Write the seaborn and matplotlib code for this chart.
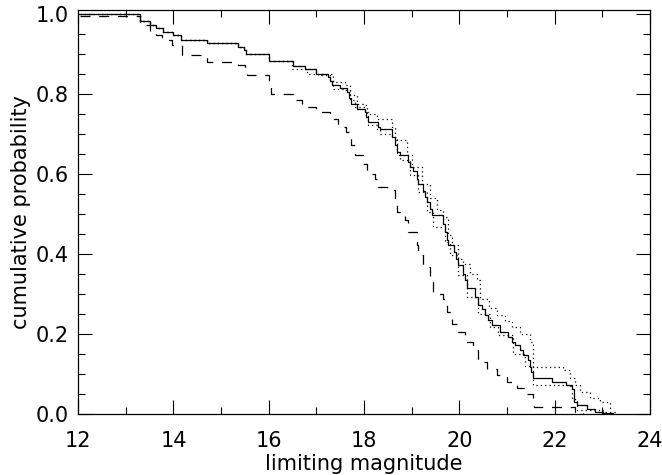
import matplotlib
matplotlib.use("Agg")
import matplotlib.pyplot as plt
import seaborn as sns
from matplotlib.ticker import MultipleLocator

# step curves: x position of each step, value after the step
solid_x = [12.05, 13.3, 13.5, 13.63, 13.78, 14.0, 14.16, 14.7, 15.36, 15.48, 15.52,
           16.0, 16.5, 16.76, 17.0, 17.24, 17.28, 17.33, 17.5, 17.64, 17.68, 17.72,
           17.85, 18.02, 18.05, 18.08, 18.3, 18.33, 18.58, 18.65, 18.69, 18.75, 18.92,
           18.96, 19.03, 19.1, 19.13, 19.24, 19.28, 19.31, 19.38, 19.42, 19.66, 19.7,
           19.73, 19.76, 19.89, 19.93, 19.96, 20.08, 20.12, 20.15, 20.33, 20.4, 20.47,
           20.54, 20.6, 20.68, 20.85, 21.02, 21.1, 21.17, 21.27, 21.34, 21.44, 21.48,
           21.51, 21.54, 21.94, 22.24, 22.36, 22.4, 22.47, 22.68, 22.85, 23.02, 23.23]
solid_y = [1.0, 0.983, 0.972, 0.964, 0.956, 0.947, 0.935, 0.927, 0.918, 0.909, 0.899,
           0.882, 0.87, 0.862, 0.851, 0.842, 0.832, 0.823, 0.815, 0.805, 0.79, 0.776,
           0.763, 0.755, 0.742, 0.73, 0.717, 0.713, 0.692, 0.672, 0.655, 0.647, 0.63,
           0.617, 0.607, 0.588, 0.576, 0.557, 0.542, 0.53, 0.513, 0.497, 0.476, 0.455,
           0.435, 0.422, 0.405, 0.388, 0.372, 0.351, 0.335, 0.315, 0.292, 0.272, 0.263,
           0.247, 0.235, 0.222, 0.205, 0.192, 0.18, 0.172, 0.16, 0.147, 0.135, 0.117,
           0.105, 0.09, 0.08, 0.072, 0.062, 0.03, 0.022, 0.013, 0.005, 0.002, 0.0]

upper_x = [12.05, 13.3, 13.5, 13.63, 13.78, 14.0, 14.16, 14.7, 15.36, 15.48, 15.52,
           16.0, 16.5, 16.76, 17.0, 17.35, 17.6, 17.71, 17.85, 17.98, 18.06, 18.27,
           18.59, 18.65, 18.9, 19.01, 19.22, 19.38, 19.53, 19.66, 19.76, 19.85, 19.97,
           20.08, 20.22, 20.37, 20.43, 20.62, 20.79, 20.96, 21.1, 21.27, 21.48, 21.54,
           22.17, 22.32, 22.43, 22.53, 22.74, 22.95, 23.16, 23.27]
upper_y = [1.0, 0.983, 0.972, 0.964, 0.956, 0.947, 0.935, 0.927, 0.918, 0.909, 0.899,
           0.882, 0.87, 0.862, 0.851, 0.83, 0.822, 0.797, 0.775, 0.772, 0.75, 0.738,
           0.717, 0.685, 0.647, 0.617, 0.575, 0.54, 0.51, 0.492, 0.447, 0.422, 0.388,
           0.375, 0.35, 0.335, 0.288, 0.265, 0.247, 0.232, 0.217, 0.2, 0.18, 0.118,
           0.11, 0.09, 0.072, 0.055, 0.04, 0.03, 0.005, 0.0]

lower_x = [12.05, 13.3, 13.5, 13.63, 13.78, 14.0, 14.16, 14.7, 15.36, 15.48, 15.52,
           16.0, 16.49, 16.8, 17.03, 17.29, 17.35, 17.56, 17.71, 17.81, 18.02, 18.08,
           18.27, 18.34, 18.59, 18.69, 18.75, 18.96, 19.13, 19.32, 19.45, 19.7, 19.8,
           19.97, 20.16, 20.39, 20.64, 20.81, 21.13, 21.38, 21.54, 22.32, 22.36, 22.47,
           23.01, 23.08]
lower_y = [1.0, 0.983, 0.972, 0.964, 0.956, 0.947, 0.935, 0.927, 0.918, 0.909, 0.899,
           0.882, 0.862, 0.85, 0.847, 0.835, 0.812, 0.81, 0.785, 0.767, 0.755, 0.722,
           0.71, 0.7, 0.692, 0.647, 0.635, 0.597, 0.555, 0.505, 0.467, 0.43, 0.397,
           0.347, 0.292, 0.25, 0.217, 0.197, 0.15, 0.12, 0.072, 0.07, 0.037, 0.01,
           0.005, 0.0]

dashed_x = [12.05, 13.3, 13.5, 13.63, 13.75, 13.97, 14.18, 14.7, 15.36, 15.5, 15.55,
            16.0, 16.05, 16.5, 16.7, 17.0, 17.28, 17.45, 17.63, 17.73, 17.8, 17.98,
            18.06, 18.23, 18.3, 18.55, 18.65, 18.69, 18.86, 18.92, 19.1, 19.13, 19.24,
            19.38, 19.45, 19.66, 19.74, 19.85, 19.97, 20.12, 20.28, 20.39, 20.58, 20.79,
            21.0, 21.2, 21.42, 21.54, 21.56, 22.42, 22.6]
dashed_y = [0.995, 0.972, 0.956, 0.947, 0.935, 0.922, 0.897, 0.881, 0.872, 0.86, 0.847,
            0.83, 0.8, 0.785, 0.767, 0.755, 0.738, 0.717, 0.705, 0.672, 0.647, 0.625,
            0.6, 0.588, 0.567, 0.56, 0.535, 0.505, 0.485, 0.455, 0.422, 0.397, 0.367,
            0.335, 0.3, 0.288, 0.255, 0.225, 0.205, 0.18, 0.16, 0.13, 0.112, 0.097,
            0.08, 0.065, 0.05, 0.035, 0.017, 0.005, 0.0]

sns.set_style("ticks")
plt.rcParams["font.family"] = ["DejaVu Sans"]
plt.rcParams["text.color"] = "black"
plt.rcParams["axes.labelcolor"] = "black"
plt.rcParams["xtick.labelcolor"] = "black"
plt.rcParams["ytick.labelcolor"] = "black"

fig = plt.figure(figsize=(6.62, 4.75), dpi=100)
ax = fig.add_axes([0.118, 0.128, 0.864, 0.851])

step = dict(drawstyle="steps-post", color="black", estimator=None, sort=False)
sns.lineplot(x=upper_x, y=upper_y, ax=ax, lw=0.9, linestyle=(0, (1, 2.5)), **step)
sns.lineplot(x=lower_x, y=lower_y, ax=ax, lw=0.9, linestyle=(0, (1, 2.5)), **step)
sns.lineplot(x=dashed_x, y=dashed_y, ax=ax, lw=0.9, linestyle=(0, (8, 7)), **step)
sns.lineplot(x=solid_x, y=solid_y, ax=ax, lw=0.9, **step)

ax.set_xlim(12, 24)
ax.set_ylim(0, 1.01)
ax.xaxis.set_major_locator(MultipleLocator(2))
ax.xaxis.set_minor_locator(MultipleLocator(1))
ax.yaxis.set_major_locator(MultipleLocator(0.2))
ax.yaxis.set_minor_locator(MultipleLocator(0.05))
ax.set_yticks([0.0, 0.2, 0.4, 0.6, 0.8, 1.0])
ax.set_yticklabels(["0.0", "0.2", "0.4", "0.6", "0.8", "1.0"])
ax.tick_params(which="both", direction="in", top=True, right=True, width=0.8,
               labelsize=15, color="black")
ax.tick_params(axis="x", which="both", pad=12)
ax.tick_params(axis="y", which="both", pad=7)
ax.tick_params(which="major", length=10)
ax.tick_params(which="minor", length=5)
for s in ax.spines.values():
    s.set_linewidth(0.9)
    s.set_color("black")

ax.set_xlabel("limiting magnitude", fontsize=15, labelpad=2)
ax.set_ylabel("cumulative probability", fontsize=15, labelpad=3)

fig.savefig("out.png", dpi=100)
